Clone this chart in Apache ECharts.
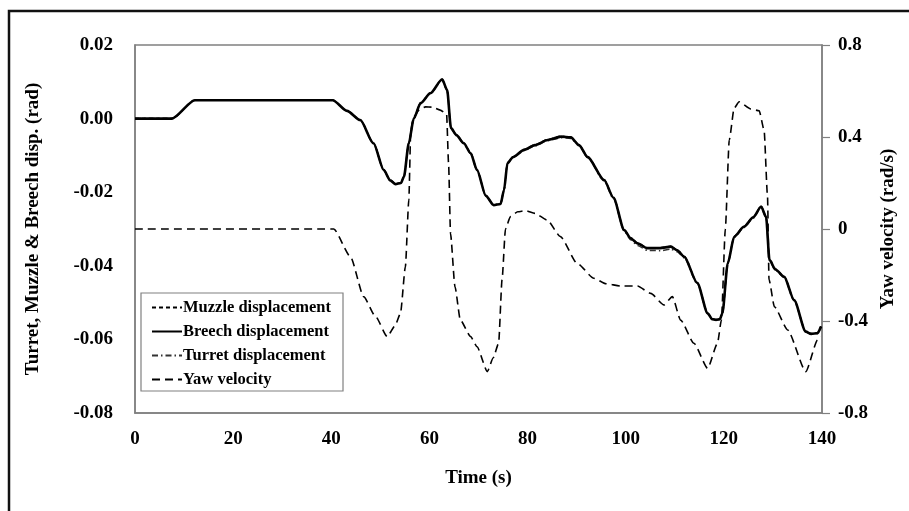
<!DOCTYPE html>
<html>
<head>
<meta charset="utf-8">
<script src="https://cdn.jsdelivr.net/npm/echarts@6/dist/echarts.min.js"></script>
<style>
    html, body { margin: 0; padding: 0; background: #fff; }
    #chart { width: 909px; height: 511px; }
</style>
</head>
<body>
<div id="chart"></div>
<script>
// time (s) for the displacement curves
const dispTime = [0, 7.5, 12.2, 40.3, 43.2, 45.9, 48.6, 50.7, 52, 53.1, 54.2, 54.8, 55.8, 56.8, 58.2, 60.2, 62.6, 63.6, 64.4, 65.5, 67, 68.4, 69.7, 71.5, 73.1, 74.5, 75.2, 75.9, 77, 79.3, 81.5, 84.1, 86.8, 88.8, 90.5, 92.2, 95.6, 97.5, 99.7, 101, 102.4, 104.4, 107, 109.2, 110.5, 111.9, 114.6, 116.7, 117.6, 118.4, 119.2, 119.7, 120.8, 122.1, 124.1, 126, 127.6, 128.6, 129.3, 130.5, 132.3, 134.3, 136.7, 137.8, 139.1, 139.8];
// displacements (rad)
const breechDisp = [0, 0, 0.005, 0.005, 0.0021, -0.0004, -0.0067, -0.014, -0.0168, -0.0178, -0.0175, -0.0158, -0.0067, 0, 0.0042, 0.0069, 0.0107, 0.0078, -0.0026, -0.0045, -0.0067, -0.0094, -0.014, -0.021, -0.0235, -0.0232, -0.0194, -0.0121, -0.0105, -0.0085, -0.0072, -0.0058, -0.0049, -0.0051, -0.0072, -0.0104, -0.0167, -0.0215, -0.0303, -0.0325, -0.0339, -0.0352, -0.0352, -0.0348, -0.0358, -0.0375, -0.0447, -0.0529, -0.0545, -0.0547, -0.0545, -0.0529, -0.0393, -0.0321, -0.0294, -0.0268, -0.0239, -0.0267, -0.0384, -0.041, -0.043, -0.0493, -0.0579, -0.0585, -0.0583, -0.0565];
const muzzleDisp = [0, 0, 0.005, 0.005, 0.0021, -0.0004, -0.0066, -0.0139, -0.0167, -0.0177, -0.0174, -0.0157, -0.0066, 0, 0.0043, 0.007, 0.0106, 0.0077, -0.0025, -0.0044, -0.0066, -0.0093, -0.0139, -0.0209, -0.0234, -0.0231, -0.0193, -0.012, -0.0104, -0.0084, -0.0071, -0.0057, -0.0048, -0.005, -0.0071, -0.0103, -0.0166, -0.0214, -0.0302, -0.0324, -0.0338, -0.0351, -0.0351, -0.0347, -0.0357, -0.0374, -0.0446, -0.0528, -0.0544, -0.0546, -0.0544, -0.0528, -0.0392, -0.032, -0.0293, -0.0267, -0.0238, -0.0266, -0.0383, -0.0409, -0.0429, -0.0492, -0.0578, -0.0584, -0.0582, -0.0564];
const turretDisp = [0, 0, 0.005, 0.005, 0.0021, -0.0004, -0.0068, -0.0141, -0.0169, -0.0178, -0.0175, -0.0158, -0.0068, 0, 0.0041, 0.0068, 0.0105, 0.0076, -0.0027, -0.0046, -0.0068, -0.0095, -0.0141, -0.0211, -0.0235, -0.0232, -0.0195, -0.0122, -0.0106, -0.0087, -0.0074, -0.006, -0.0052, -0.0054, -0.0074, -0.0106, -0.0169, -0.0218, -0.0306, -0.0329, -0.0345, -0.0358, -0.0359, -0.0355, -0.0362, -0.0378, -0.0449, -0.053, -0.0546, -0.0548, -0.0546, -0.053, -0.0395, -0.0323, -0.0296, -0.027, -0.0241, -0.0269, -0.0386, -0.0412, -0.0432, -0.0495, -0.058, -0.0586, -0.0584, -0.0566];

// yaw velocity (rad/s)
const yawTime = [0, 40.5, 43.9, 46.6, 49, 51.4, 53, 54.1, 55.1, 55.8, 56.2, 56.8, 58, 59.2, 60.5, 62.2, 63.5, 63.9, 64.3, 65.2, 66.3, 68.4, 69.7, 71.8, 73, 74.1, 74.8, 75.5, 76.5, 78, 79.6, 81.5, 84, 86.7, 90.1, 93.5, 96, 99, 102.4, 105.1, 107.8, 109.5, 111.2, 113.9, 116.7, 118.7, 119.5, 120.3, 121.1, 122.1, 123.1, 125.5, 127.2, 128.2, 128.9, 129.2, 130.3, 133, 136.7, 139.1, 139.8];
const yawVel = [0, 0, -0.12, -0.294, -0.38, -0.468, -0.42, -0.367, -0.164, 0.126, 0.43, 0.488, 0.52, 0.531, 0.53, 0.517, 0.5, 0.286, -0.02, -0.25, -0.396, -0.468, -0.512, -0.62, -0.56, -0.497, -0.22, 0, 0.054, 0.075, 0.08, 0.068, 0.039, -0.033, -0.149, -0.214, -0.238, -0.248, -0.248, -0.28, -0.33, -0.294, -0.396, -0.497, -0.606, -0.497, -0.396, 0, 0.387, 0.525, 0.553, 0.522, 0.514, 0.43, 0.14, -0.22, -0.338, -0.439, -0.62, -0.483, -0.468];

const timeTicks = [0, 20, 40, 60, 80, 100, 120, 140];

const font = "'Liberation Serif', 'Times New Roman', serif";
const pairs = (xs, ys) => xs.map((x, i) => [x, ys[i]]);

const chart = echarts.init(document.getElementById('chart'), null, {renderer: 'canvas'});

const textBase = {fontFamily: font, fontWeight: 'bold', color: '#000'};
const axisLineStyle = {color: '#808080', width: 1.5};

chart.setOption({
    animation: false,
    backgroundColor: '#fff',
    color: ['#000', '#000', '#333', '#000'],
    graphic: [{
        type: 'polyline',
        shape: {points: [[9, 511], [9, 11], [909, 11]]},
        style: {stroke: '#111', lineWidth: 2.5, fill: null}
    }],
    grid: {
        left: 135, right: 87, top: 45, bottom: 98,
        show: true, borderColor: '#808080', borderWidth: 1.5
    },
    legend: {
        orient: 'vertical',
        left: 141, top: 293,
        width: 204,
        padding: [6, 12, 3, 10],
        itemGap: 7,
        itemWidth: 30, itemHeight: 17,
        borderColor: '#808080', borderWidth: 1.2,
        backgroundColor: '#fff',
        itemStyle: {opacity: 0},
        textStyle: {...textBase, fontSize: 16.5, padding: [0, 0, 0, -4]},
        data: ['Muzzle displacement', 'Breech displacement', 'Turret displacement', 'Yaw velocity']
    },
    xAxis: {
        type: 'value',
        min: 0, max: 140, interval: 20,
        name: 'Time (s)',
        nameLocation: 'middle',
        nameGap: 56,
        nameTextStyle: {...textBase, fontSize: 19},
        axisLine: {show: true, onZero: false, lineStyle: axisLineStyle},
        axisTick: {show: false},
        splitLine: {show: false},
        axisLabel: {...textBase, fontSize: 19, margin: 17,
            formatter: v => timeTicks.includes(v) ? String(v) : ''}
    },
    yAxis: [{
        type: 'value',
        min: -0.08, max: 0.02, interval: 0.02,
        position: 'left',
        name: 'Turret, Muzzle & Breech disp. (rad)',
        nameLocation: 'middle',
        nameRotate: 90,
        nameGap: 92,
        nameTextStyle: {...textBase, fontSize: 19},
        axisLine: {show: true, onZero: false, lineStyle: axisLineStyle},
        axisTick: {show: false},
        splitLine: {show: false},
        axisLabel: {...textBase, fontSize: 19, margin: 22, formatter: v => v.toFixed(2)}
    }, {
        type: 'value',
        min: -0.8, max: 0.8, interval: 0.4,
        position: 'right',
        name: 'Yaw velocity (rad/s)',
        nameLocation: 'middle',
        nameRotate: 90,
        nameGap: 56,
        nameTextStyle: {...textBase, fontSize: 19},
        axisLine: {show: true, onZero: false, lineStyle: axisLineStyle},
        axisTick: {show: true, inside: false, length: 8, lineStyle: {color: '#808080', width: 1.2}},
        splitLine: {show: false},
        axisLabel: {...textBase, fontSize: 19, margin: 16,
            formatter: v => Math.abs(v) < 1e-9 ? '0' : String(Math.round(v * 10) / 10)}
    }],
    series: [{
        name: 'Muzzle displacement',
        type: 'line',
        yAxisIndex: 0,
        data: pairs(dispTime, muzzleDisp),
        showSymbol: false, symbol: 'none',
        smooth: 0.25, smoothMonotone: 'x',
        lineStyle: {color: '#000', width: 1.5, type: [4, 3]},
        z: 3
    }, {
        name: 'Breech displacement',
        type: 'line',
        yAxisIndex: 0,
        data: pairs(dispTime, breechDisp),
        showSymbol: false, symbol: 'none',
        smooth: 0.25, smoothMonotone: 'x',
        lineStyle: {color: '#000', width: 2.6},
        z: 4
    }, {
        name: 'Turret displacement',
        type: 'line',
        yAxisIndex: 0,
        data: pairs(dispTime, turretDisp),
        showSymbol: false, symbol: 'none',
        smooth: 0.25, smoothMonotone: 'x',
        lineStyle: {color: '#333', width: 1.5, type: [6, 3, 1.5, 3]},
        z: 2
    }, {
        name: 'Yaw velocity',
        type: 'line',
        yAxisIndex: 1,
        data: pairs(yawTime, yawVel),
        showSymbol: false, symbol: 'none',
        smooth: 0.2, smoothMonotone: 'x',
        lineStyle: {color: '#000', width: 1.6, type: [8, 5]},
        z: 5
    }]
});
</script>
</body>
</html>
